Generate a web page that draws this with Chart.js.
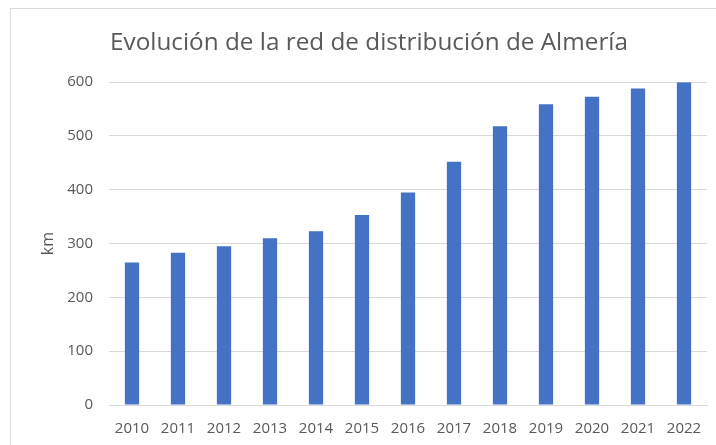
<!DOCTYPE html>
<html>
<head>
<meta charset="utf-8">
<script src="https://cdn.jsdelivr.net/npm/chart.js@4/dist/chart.umd.min.js"></script>
<style>
  html, body { margin: 0; padding: 0; background: #fff; overflow: hidden; width: 716px; height: 445px; }
  #frame { position: absolute; left: 10px; top: 8px; width: 740px; height: 460px; border: 1px solid #d9d9d9; box-sizing: border-box; }
  #wrap { position: absolute; left: 0; top: 0; width: 738px; height: 445px; }
</style>
</head>
<body>
<div id="frame"></div>
<div id="wrap"><canvas id="c"></canvas></div>
<script>
const categories = ['2010','2011','2012','2013','2014','2015','2016','2017','2018','2019','2020','2021','2022'];
const kmValues = [265, 283, 295, 310, 323, 353, 395, 452, 518, 559, 573, 588, 600];
const yTicks = [0, 100, 200, 300, 400, 500, 600];
const titleText = 'Evolución de la red de distribución de Almería';
const yTitle = 'km';

const gray = '#595959';
const fontFamily = '"Open Sans", sans-serif';

new Chart(document.getElementById('c'), {
  type: 'bar',
  data: {
    labels: categories,
    datasets: [{
      label: yTitle,
      data: kmValues,
      backgroundColor: '#4472C4',
      borderWidth: 0,
      barPercentage: 0.31,
      categoryPercentage: 1.0
    }]
  },
  options: {
    responsive: true,
    maintainAspectRatio: false,
    animation: false,
    layout: { padding: { left: 31, right: 31, top: 0, bottom: 0 } },
    plugins: {
      legend: { display: false },
      tooltip: { enabled: false },
      title: {
        display: true,
        text: titleText,
        color: gray,
        font: { family: fontFamily, size: 24.3, weight: 'normal' },
        padding: { top: 28, bottom: 25 }
      }
    },
    scales: {
      x: {
        grid: { display: false, drawTicks: false },
        border: { display: true, color: '#d9d9d9', width: 1 },
        ticks: { color: gray, font: { family: fontFamily, size: 15 }, padding: 15, maxRotation: 0, autoSkip: false },
        afterFit: (s) => { s.height = 40; }
      },
      y: {
        min: 0, max: 600,
        afterBuildTicks: (s) => { s.ticks = yTicks.map(v => ({ value: v })); },
        grid: { color: '#d9d9d9', lineWidth: 1, drawTicks: false },
        border: { display: false },
        ticks: { color: gray, font: { family: fontFamily, size: 15 }, padding: 16 },
        title: { display: true, text: yTitle, color: gray, font: { family: fontFamily, size: 16 }, padding: { top: 7.4, bottom: 0 } },
        afterFit: (s) => { s.width = 78; }
      }
    }
  }
});
</script>
</body>
</html>
